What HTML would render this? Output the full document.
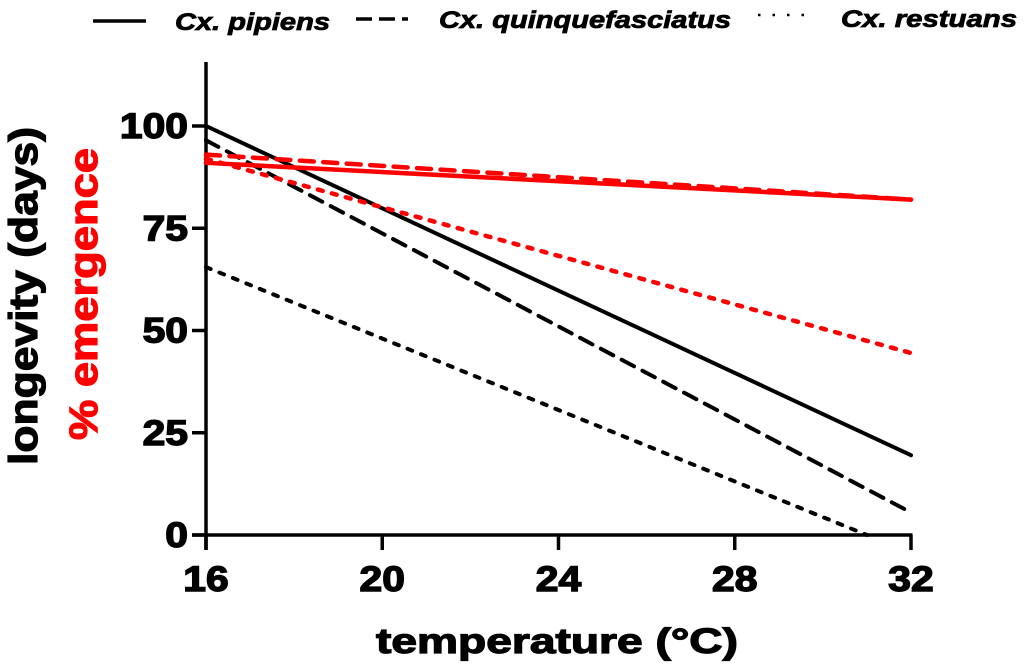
<!DOCTYPE html>
<html>
<head>
<meta charset="utf-8">
<style>
html,body{margin:0;padding:0;background:#fff;width:1024px;height:672px;overflow:hidden}
svg{display:block}
text{font-family:"Liberation Sans",Arial,sans-serif;font-weight:bold}
.tick{font-size:35px;stroke:#000;stroke-width:1.4px}
.title{font-size:40px;stroke-width:1.2px}
.xtitle{font-size:35px;stroke-width:1.2px}
.leg{font-size:24px;font-style:italic;stroke:#000;stroke-width:.8px}
</style>
</head>
<body>
<svg id="chart" width="1024" height="672" viewBox="0 0 1024 672" xmlns="http://www.w3.org/2000/svg">
<g id="axes"></g>
<g id="series"></g>
<text class="xtitle" x="557" y="653" text-anchor="middle" fill="#000" stroke="#000" textLength="362" lengthAdjust="spacingAndGlyphs">temperature (°C)</text>
<text class="title" transform="translate(37,296) rotate(-90)" x="0" y="0" text-anchor="middle" fill="#000" stroke="#000" textLength="338" lengthAdjust="spacingAndGlyphs">longevity (days)</text>
<text class="title" transform="translate(97,294) rotate(-90)" x="0" y="0" text-anchor="middle" fill="#f00" stroke="#f00" textLength="292" lengthAdjust="spacingAndGlyphs">% emergence</text>
<g>
<line x1="93" y1="21" x2="146" y2="21" stroke="#000" stroke-width="3.5"/>
<text class="leg" x="175" y="30" textLength="155" lengthAdjust="spacingAndGlyphs">Cx. pipiens</text>
<line x1="356" y1="19" x2="408" y2="19" stroke="#000" stroke-width="3.5" stroke-dasharray="16 7"/>
<text class="leg" x="439" y="28" textLength="292" lengthAdjust="spacingAndGlyphs">Cx. quinquefasciatus</text>
<line x1="758" y1="15" x2="806" y2="15" stroke="#000" stroke-width="2.5" stroke-dasharray="2.5 12"/>
<text class="leg" x="841" y="27" textLength="176" lengthAdjust="spacingAndGlyphs">Cx. restuans</text>
</g>
</svg>
<script>
const xTicks = [16, 20, 24, 28, 32];
const yTicks = [0, 25, 50, 75, 100];
const pipiensX = [16, 32];
const pipiensLongevity = [100, 19.5];
const quinqueX = [16, 32];
const quinqueLongevity = [96.5, 5.5];
const restuansX = [16, 31];
const restuansLongevity = [65.5, 0];
const emergenceX = [16, 32];
const pipiensEmergence = [91, 82];
const quinqueEmergence = [93, 82];
const restuansEmergence = [92, 44.5];

const NS = 'http://www.w3.org/2000/svg';
function sx(v) { return 206 + (v - 16) * (911 - 206) / 16; }
function sy(v) { return 535 - v * (535 - 126) / 100; }
function mk(parent, tag, attrs) {
  const el = document.createElementNS(NS, tag);
  for (const k in attrs) el.setAttribute(k, attrs[k]);
  parent.appendChild(el);
  return el;
}
const axes = document.getElementById('axes');
const series = document.getElementById('series');

const yAxis = mk(axes, 'line', {x1: sx(16), x2: sx(16), y1: 62, y2: 550, stroke: '#000', 'stroke-width': 3.5});


const xAxis = mk(axes, 'line', {x1: 192, x2: sx(32) + 1.5, y1: sy(0), y2: sy(0), stroke: '#000', 'stroke-width': 3.5});



yTicks.forEach(function (t) {
  const m = mk(axes, 'line', {x1: 192, x2: sx(16), y1: sy(t), y2: sy(t), stroke: '#000', 'stroke-width': 3.5});
  
  
  const l = mk(axes, 'text', {x: 188, y: sy(t) + 12, 'text-anchor': 'end', class: 'tick', textLength: String(t).length * 22.7, lengthAdjust: 'spacingAndGlyphs'});
  
  
  l.textContent = t;
});
xTicks.forEach(function (t) {
  const m = mk(axes, 'line', {x1: sx(t), x2: sx(t), y1: sy(0), y2: 550, stroke: '#000', 'stroke-width': 3.5});
  
  
  const l = mk(axes, 'text', {x: sx(t), y: 591, 'text-anchor': 'middle', class: 'tick', textLength: String(t).length * 22.7, lengthAdjust: 'spacingAndGlyphs'});
  
  
  l.textContent = t;
});

function draw(name, xs, ys, color, dash) {
  const pts = xs.map(function (x, i) { return sx(x) + ',' + sy(ys[i]); }).join(' ');
  const attrs = {points: pts, fill: 'none', stroke: color, 'stroke-width': color === '#f00' ? 4.5 : 4, 'stroke-linecap': 'round'};
  if (dash) attrs['stroke-dasharray'] = dash;
  const p = mk(series, 'polyline', attrs);
  
  
}
draw('line-pipiens-longevity', pipiensX, pipiensLongevity, '#000', null);
draw('line-quinquefasciatus-longevity', quinqueX, quinqueLongevity, '#000', '14 9.5');
draw('line-restuans-longevity', restuansX, restuansLongevity, '#000', '5 9.5');
draw('line-restuans-emergence', emergenceX, restuansEmergence, '#f00', '5 9.5');
draw('line-quinquefasciatus-emergence', emergenceX, quinqueEmergence, '#f00', '14 9.5');
draw('line-pipiens-emergence', emergenceX, pipiensEmergence, '#f00', null);
</script>
</body>
</html>
